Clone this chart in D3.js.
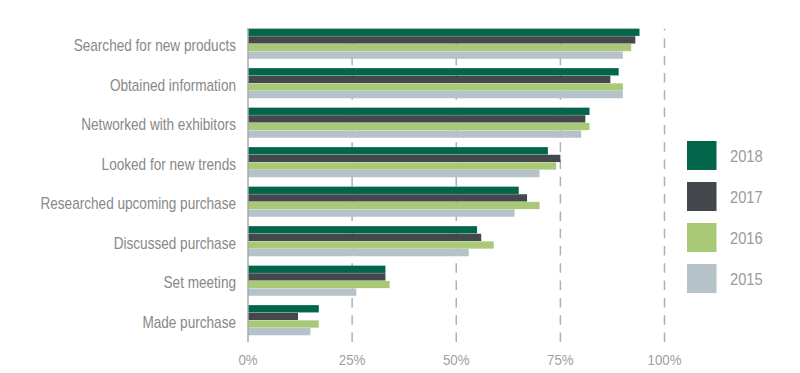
<!DOCTYPE html>
<html>
<head>
<meta charset="utf-8">
<script src="https://cdn.jsdelivr.net/npm/d3@7"></script>
<style>
  body { margin: 0; background: #fff; }
  svg { display: block; font-family: "Liberation Sans", Arial, sans-serif; }
  .cat { fill: #888; font-size: 16px; }
  .tick-label { fill: #a0a0a0; font-size: 14px; }
  .legend-text { fill: #9a9a9a; font-size: 16px; }
</style>
</head>
<body>
<div id="chart"></div>
<script>
// categories, top to bottom
const categories = ["Searched for new products", "Obtained information", "Networked with exhibitors",
  "Looked for new trends", "Researched upcoming purchase", "Discussed purchase", "Set meeting", "Made purchase"];

const years = ["2018", "2017", "2016", "2015"];

// percentage per category, one array per year
const v2018 = [94, 89, 82, 72, 65, 55, 33, 17];
const v2017 = [93, 87, 81, 75, 67, 56, 33, 12];
const v2016 = [92, 90, 82, 74, 70, 59, 34, 17];
const v2015 = [90, 90, 80, 70, 64, 53, 26, 15];

const ticks = [0, 25, 50, 75, 100];

const colors = ["#03664a", "#44474b", "#a9c977", "#b6c2ca"];

(function(){
  const width = 800, height = 373;

  const svg = d3.select("#chart")
    .append("svg")
    .attr("width", width)
    .attr("height", height);

  const series = [v2018, v2017, v2016, v2015];

  const x = d3.scaleLinear().domain([0, 100]).range([248, 664.5]);

  const y = d3.scaleBand()
    .domain(categories)
    .range([24.1, 340.1])
    .paddingInner(0.23)
    .paddingOuter(0.115);

  const ySub = d3.scaleBand()
    .domain(years)
    .range([0, y.bandwidth()]);

  // dashed grid lines (drawn behind bars)
  svg.append("g")
    .selectAll("line")
    .data(ticks.slice(1))
    .enter()
    .append("line")
    .attr("x1", d => x(d))
    .attr("x2", d => x(d))
    .attr("y1", 28.7)
    .attr("y2", 342)
    .attr("stroke", "#b0b0b0")
    .attr("stroke-width", 1.5)
    .attr("stroke-dasharray", "9.5,7.8")
    .attr("stroke-dashoffset", -9.7);

  // bars
  const groups = svg.append("g")
    .selectAll("g")
    .data(categories)
    .enter()
    .append("g")
    .attr("transform", d => "translate(0," + y(d) + ")");

  groups.selectAll("rect")
    .data((d, i) => years.map((yr, j) => ({ year: yr, value: series[j][i], color: colors[j] })))
    .enter()
    .append("rect")
    .attr("x", x(0))
    .attr("y", d => ySub(d.year))
    .attr("width", d => x(d.value) - x(0))
    .attr("height", ySub.bandwidth() - 0.3)
    .attr("fill", d => d.color);

  // zero axis line
  svg.append("line")
    .attr("x1", x(0))
    .attr("x2", x(0))
    .attr("y1", 28)
    .attr("y2", 342)
    .attr("stroke", "#a8a8a8")
    .attr("stroke-width", 1.5);

  // category labels (squeezed to look like a condensed face)
  svg.append("g")
    .selectAll("text")
    .data(categories)
    .enter()
    .append("text")
    .attr("class", "cat")
    .attr("transform", d => "translate(236," + (y(d) + y.bandwidth() / 2 + 7.5) + ") scale(0.85,1)")
    .attr("text-anchor", "end")
    .text(d => d);

  // x tick labels
  svg.append("g")
    .selectAll("text")
    .data(ticks)
    .enter()
    .append("text")
    .attr("class", "tick-label")
    .attr("transform", d => "translate(" + x(d) + ",365) scale(0.95,1)")
    .attr("text-anchor", "middle")
    .text(d => d + "%");

  // legend
  const legend = svg.selectAll(".legend")
    .data(years)
    .enter().append("g")
    .attr("class", "legend")
    .attr("transform", (d, i) => "translate(687," + (141 + i * 41) + ")");

  legend.append("rect")
    .attr("width", 29.5)
    .attr("height", 29)
    .style("fill", (d, i) => colors[i]);

  legend.append("text")
    .attr("class", "legend-text")
    .attr("transform", "translate(43,20.5) scale(0.92,1)")
    .text(d => d);
})();
</script>
</body>
</html>
